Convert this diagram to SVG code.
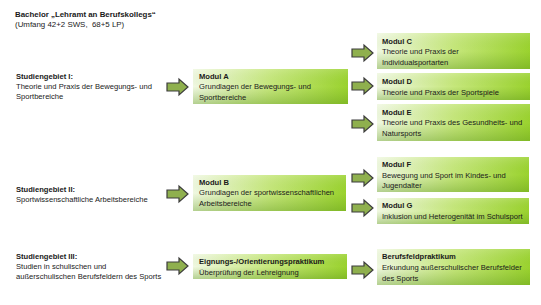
<svg xmlns="http://www.w3.org/2000/svg" width="541" height="305" viewBox="0 0 541 305">
<defs>
<linearGradient id="gh" x1="0" y1="0" x2="1" y2="0">
<stop offset="0" stop-color="#f0f8e2"/>
<stop offset="0.5" stop-color="#c6e77c"/>
<stop offset="1" stop-color="#9ad22e"/>
</linearGradient>
<linearGradient id="gv" x1="0" y1="0" x2="0" y2="1">
<stop offset="0" stop-color="#ffffff" stop-opacity="0.15"/>
<stop offset="0.5" stop-color="#6aa020" stop-opacity="0"/>
<stop offset="1" stop-color="#5a9418" stop-opacity="0.4"/>
</linearGradient>
<path id="arr" d="M0,4 H12 V0 L21,8 L12,16 V12 H0 Z"/>
</defs>
<style>
text{font-family:"Liberation Sans",Arial,sans-serif;font-size:7.6px;fill:#1a1a1a}
.b{font-weight:bold}
.t{font-size:7.9px}
.bx{fill:url(#gh)}
.ov{fill:url(#gv)}
.ar{fill:#8fb04e;stroke:#3c3c3c;stroke-width:1.2;stroke-linejoin:miter}
</style>
<g id="title">
<text class="b t" x="15" y="17">Bachelor „Lehramt an Berufskollegs“</text>
<text class="t" x="15" y="27">(Umfang 42+2 SWS,&#160; 68+5 LP)</text>
</g>
<g id="sg1">
<text class="b" x="16" y="79">Studiengebiet I:</text>
<text x="16" y="89">Theorie und Praxis der Bewegungs- und</text>
<text x="16" y="99">Sportbereiche</text>
</g>
<g id="sg2">
<text class="b" x="16" y="192">Studiengebiet II:</text>
<text x="16" y="202">Sportwissenschaftliche Arbeitsbereiche</text>
</g>
<g id="sg3">
<text class="b" x="16" y="259">Studiengebiet III:</text>
<text x="16" y="269">Studien in schulischen und</text>
<text x="16" y="279">außerschulischen Berufsfeldern des Sports</text>
</g>
<g id="connectors">
<use href="#arr" class="ar" x="167" y="79"/>
<use href="#arr" class="ar" x="167" y="186"/>
<use href="#arr" class="ar" x="167" y="258"/>
<use href="#arr" class="ar" x="352" y="45"/>
<use href="#arr" class="ar" x="352" y="78"/>
<use href="#arr" class="ar" x="352" y="116"/>
<use href="#arr" class="ar" x="352" y="170"/>
<use href="#arr" class="ar" x="352" y="200"/>
<use href="#arr" class="ar" x="352" y="262"/>
</g>
<g id="modulA">
<rect class="bx" x="193" y="69" width="155" height="35"/><rect class="ov" x="193" y="69" width="155" height="35"/>
<text class="b" x="199" y="79">Modul A</text>
<text x="199" y="89">Grundlagen der Bewegungs- und</text>
<text x="199" y="100">Sportbereiche</text>
</g>
<g id="modulB">
<rect class="bx" x="193" y="175" width="153" height="36"/><rect class="ov" x="193" y="175" width="153" height="36"/>
<text class="b" x="199" y="185">Modul B</text>
<text x="199" y="195">Grundlagen der sportwissenschaftlichen</text>
<text x="199" y="206">Arbeitsbereiche</text>
</g>
<g id="eignung">
<rect class="bx" x="193" y="254" width="154" height="25"/><rect class="ov" x="193" y="254" width="154" height="25"/>
<text class="b" x="199" y="264">Eignungs-/Orientierungspraktikum</text>
<text x="199" y="275">Überprüfung der Lehreignung</text>
</g>
<g id="modulC">
<rect class="bx" x="377" y="33" width="153" height="36"/><rect class="ov" x="377" y="33" width="153" height="36"/>
<text class="b" x="382" y="44">Modul C</text>
<text x="382" y="54">Theorie und Praxis der</text>
<text x="382" y="65">Individualsportarten</text>
</g>
<g id="modulD">
<rect class="bx" x="377" y="73" width="153" height="27"/><rect class="ov" x="377" y="73" width="153" height="27"/>
<text class="b" x="382" y="84">Modul D</text>
<text x="382" y="95">Theorie und Praxis der Sportspiele</text>
</g>
<g id="modulE">
<rect class="bx" x="377" y="104" width="153" height="37"/><rect class="ov" x="377" y="104" width="153" height="37"/>
<text class="b" x="382" y="115">Modul E</text>
<text x="382" y="125">Theorie und Praxis des Gesundheits- und</text>
<text x="382" y="136">Natursports</text>
</g>
<g id="modulF">
<rect class="bx" x="377" y="157" width="152" height="35"/><rect class="ov" x="377" y="157" width="152" height="35"/>
<text class="b" x="382" y="167">Modul F</text>
<text x="382" y="178">Bewegung und Sport im Kindes- und</text>
<text x="382" y="188">Jugendalter</text>
</g>
<g id="modulG">
<rect class="bx" x="377" y="198" width="152" height="26"/><rect class="ov" x="377" y="198" width="152" height="26"/>
<text class="b" x="382" y="208">Modul G</text>
<text x="382" y="219">Inklusion und Heterogenität im Schulsport</text>
</g>
<g id="berufsfeld">
<rect class="bx" x="377" y="249" width="153" height="36"/><rect class="ov" x="377" y="249" width="153" height="36"/>
<text class="b" x="382" y="259">Berufsfeldpraktikum</text>
<text x="382" y="270">Erkundung außerschulischer Berufsfelder</text>
<text x="382" y="281">des Sports</text>
</g>
</svg>
